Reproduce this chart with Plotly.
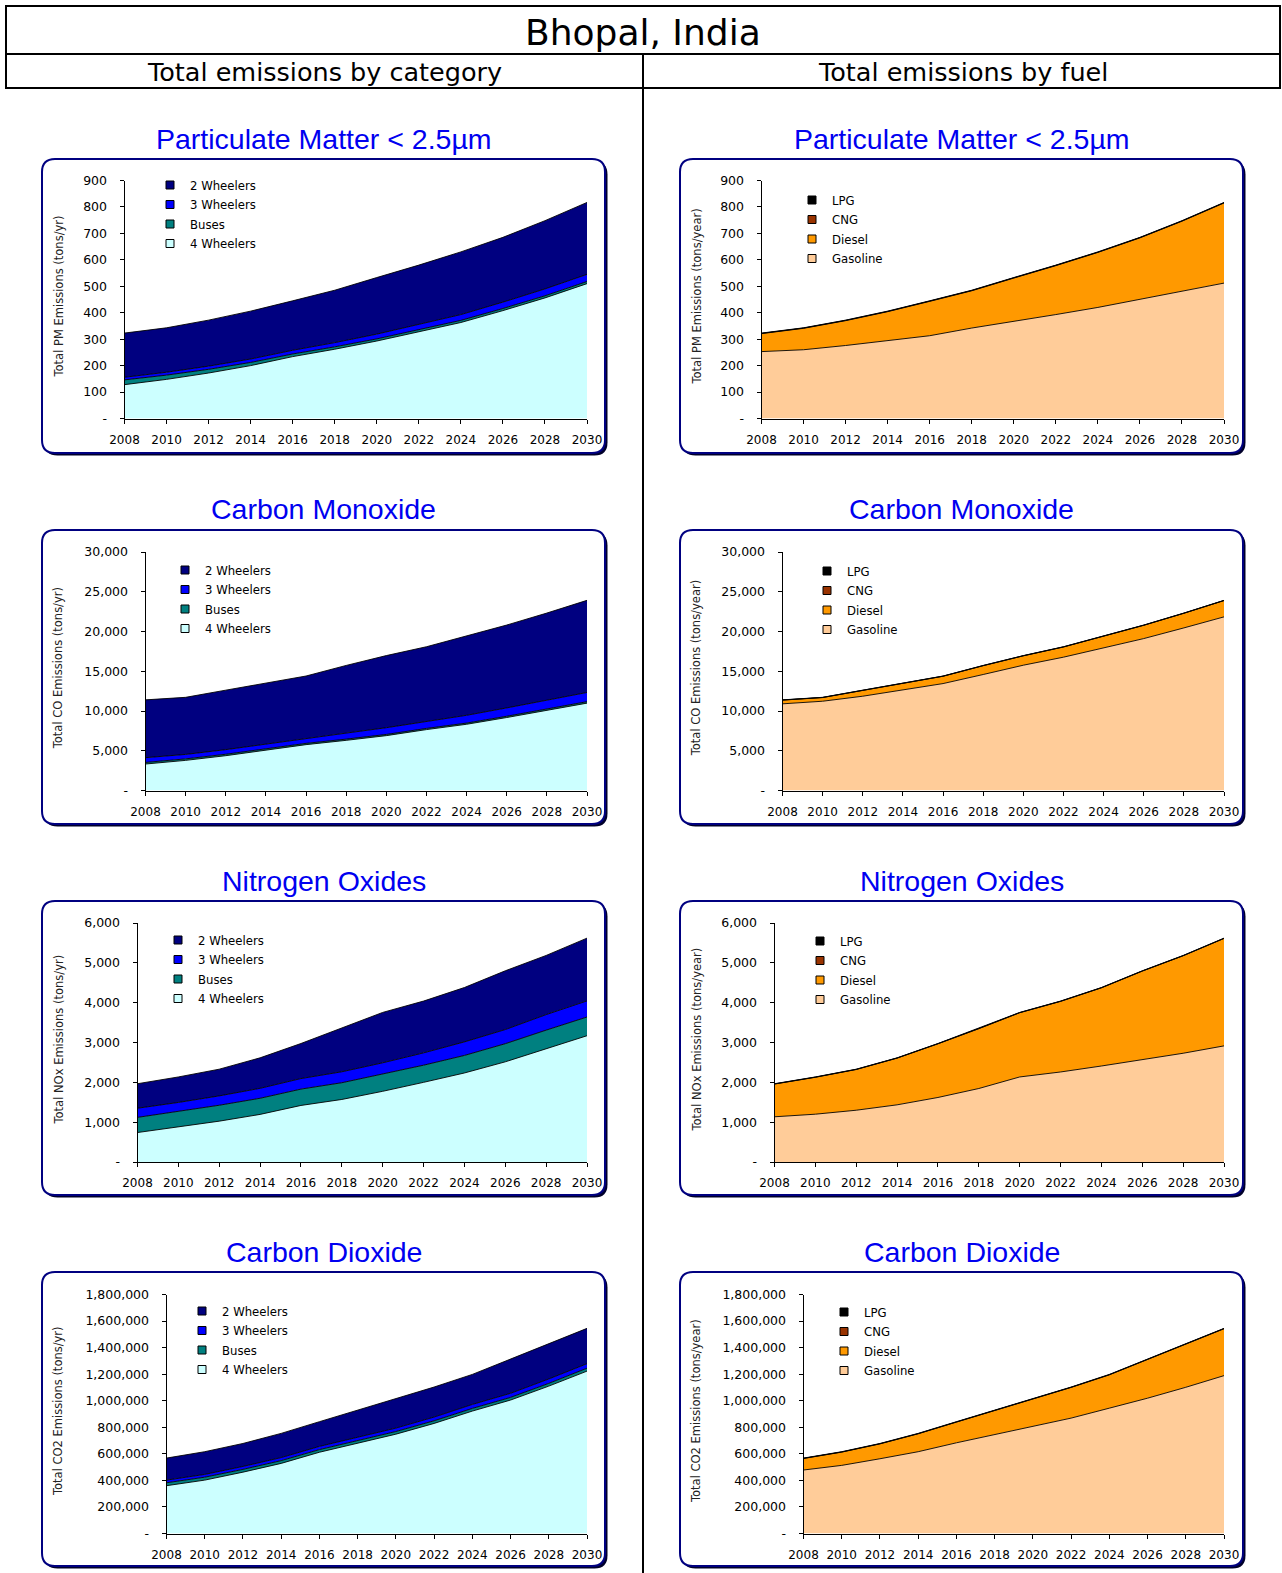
import plotly.graph_objects as go

W, H = 1282, 1573

# ---------------- data ----------------
years = [2008, 2010, 2012, 2014, 2016, 2018, 2020, 2022, 2024, 2026, 2028, 2030]

categories = ["2 Wheelers", "3 Wheelers", "Buses", "4 Wheelers"]
fuels = ["LPG", "CNG", "Diesel", "Gasoline"]

# PM 2.5 (tons/yr)
pm_4w = [128, 148, 172, 200, 234, 262, 293, 327, 363, 408, 456, 510]
pm_bus = [18, 16, 14, 12, 10, 9, 8, 8, 8, 8, 8, 8]
pm_3w = [10, 11, 12, 13, 14, 16, 18, 20, 22, 24, 26, 27]
pm_2w = [167, 168, 174, 181, 187, 198, 214, 225, 237, 245, 258, 272]
pm_gasoline = [253, 260, 276, 294, 313, 342, 367, 393, 420, 451, 482, 512]
pm_diesel = [68, 81, 94, 110, 130, 141, 164, 185, 208, 232, 264, 303]
pm_cng = [1, 1, 1, 1, 1, 1, 1, 1, 1, 1, 1, 1]
pm_lpg = [1, 1, 1, 1, 1, 1, 1, 1, 1, 1, 1, 1]

# CO (tons/yr)
co_4w = [3330, 3790, 4380, 5050, 5770, 6310, 6900, 7660, 8330, 9180, 10060, 10990]
co_bus = [200, 190, 180, 170, 160, 150, 150, 150, 150, 160, 170, 180]
co_3w = [600, 560, 580, 620, 680, 760, 850, 900, 980, 1050, 1100, 1160]
co_2w = [7270, 7180, 7480, 7710, 7790, 8510, 9070, 9370, 10000, 10420, 10990, 11590]
co_gasoline = [10900, 11230, 11860, 12700, 13450, 14590, 15760, 16770, 17940, 19110, 20450, 21840]
co_diesel = [470, 460, 730, 820, 920, 1110, 1180, 1280, 1490, 1670, 1840, 2050]
co_cng = [10, 10, 10, 10, 10, 10, 10, 10, 10, 10, 10, 10]
co_lpg = [20, 20, 20, 20, 20, 20, 20, 20, 20, 20, 20, 20]

# NOx (tons/yr)
nox_4w = [740, 875, 1025, 1195, 1420, 1570, 1775, 2000, 2235, 2515, 2850, 3170]
nox_bus = [380, 390, 400, 405, 410, 420, 430, 430, 440, 455, 460, 470]
nox_3w = [230, 230, 235, 250, 265, 275, 285, 310, 340, 355, 390, 405]
nox_2w = [615, 640, 670, 765, 880, 1090, 1265, 1300, 1365, 1475, 1485, 1575]
nox_gasoline = [1135, 1200, 1300, 1435, 1620, 1845, 2135, 2260, 2410, 2570, 2730, 2915]
nox_diesel = [822, 927, 1022, 1172, 1347, 1502, 1612, 1772, 1962, 2222, 2447, 2697]
nox_cng = [3, 3, 3, 3, 3, 3, 3, 3, 3, 3, 3, 3]
nox_lpg = [5, 5, 5, 5, 5, 5, 5, 5, 5, 5, 5, 5]

# CO2 (tons/yr)
co2_4w = [360000, 402000, 462000, 528000, 612000, 678000, 748000, 829000, 922000, 1005000, 1110000, 1223000]
co2_bus = [22000, 22000, 21000, 21000, 20000, 20000, 20000, 20000, 20000, 20000, 21000, 22000]
co2_3w = [20000, 21000, 22000, 23000, 24000, 25000, 26000, 28000, 30000, 31000, 33000, 34000]
co2_2w = [166000, 171000, 173000, 182000, 186000, 207000, 224000, 226000, 226000, 256000, 263000, 266000]
co2_gasoline = [478000, 513000, 563000, 616000, 683000, 746000, 808000, 869000, 944000, 1019000, 1101000, 1189000]
co2_diesel = [87000, 100000, 112000, 135000, 156000, 181000, 207000, 231000, 251000, 290000, 323000, 353000]
co2_cng = [1000] * 12
co2_lpg = [2000] * 12

pm_ticks = [0, 100, 200, 300, 400, 500, 600, 700, 800, 900]
co_ticks = [0, 5000, 10000, 15000, 20000, 25000, 30000]
nox_ticks = [0, 1000, 2000, 3000, 4000, 5000, 6000]
co2_ticks = [0, 200000, 400000, 600000, 800000, 1000000, 1200000, 1400000, 1600000, 1800000]

page_title = "Bhopal, India"
col_titles = ["Total emissions by category", "Total emissions by fuel"]
chart_titles = ["Particulate Matter < 2.5µm", "Carbon Monoxide", "Nitrogen Oxides", "Carbon Dioxide"]

# ---------------- styles ----------------
cat_colors = {"2 Wheelers": "#000080", "3 Wheelers": "#0000FF", "Buses": "#008080", "4 Wheelers": "#CCFFFF"}
fuel_colors = {"LPG": "#000000", "CNG": "#993300", "Diesel": "#FF9900", "Gasoline": "#FFCC99"}

FONT = "DejaVu Sans"
TITLE_FONT = "Liberation Sans"

rows = [
    dict(title=chart_titles[0], ticks=pm_ticks, gas="PM",
         cat={"4 Wheelers": pm_4w, "Buses": pm_bus, "3 Wheelers": pm_3w, "2 Wheelers": pm_2w},
         fuel={"Gasoline": pm_gasoline, "Diesel": pm_diesel, "CNG": pm_cng, "LPG": pm_lpg}),
    dict(title=chart_titles[1], ticks=co_ticks, gas="CO",
         cat={"4 Wheelers": co_4w, "Buses": co_bus, "3 Wheelers": co_3w, "2 Wheelers": co_2w},
         fuel={"Gasoline": co_gasoline, "Diesel": co_diesel, "CNG": co_cng, "LPG": co_lpg}),
    dict(title=chart_titles[2], ticks=nox_ticks, gas="NOx",
         cat={"4 Wheelers": nox_4w, "Buses": nox_bus, "3 Wheelers": nox_3w, "2 Wheelers": nox_2w},
         fuel={"Gasoline": nox_gasoline, "Diesel": nox_diesel, "CNG": nox_cng, "LPG": nox_lpg}),
    dict(title=chart_titles[3], ticks=co2_ticks, gas="CO2",
         cat={"4 Wheelers": co2_4w, "Buses": co2_bus, "3 Wheelers": co2_3w, "2 Wheelers": co2_2w},
         fuel={"Gasoline": co2_gasoline, "Diesel": co2_diesel, "CNG": co2_cng, "LPG": co2_lpg}),
]

# layout geometry (pixels)
frame_tops = [159, 530, 901, 1272]
frame_h = 294
frame_x = [(42, 605), (680, 1243)]
title_y = [139.5, 509.5, 881, 1252]
plot_y = [(180.5, 418.5), (552, 790.5), (923, 1162), (1294.5, 1533.5)]
plot_x0_left = [124.5, 145.5, 137.5, 166.5]
col_shift = 637
plot_x1 = [587, 1224]
legend_text_x_left = [190, 205, 198, 222]
legend_row0_y = [[184, 199], [569, 570], [939, 940], [1310, 1311]]


def px(x):
    return x / W


def py(y):
    return 1 - y / H


def rounded_path(x0, y0, x1, y1, r):
    rx, ry = r / W, r / H
    X0, X1 = px(x0), px(x1)
    Y0, Y1 = py(y0), py(y1)  # Y0 top (larger), Y1 bottom
    return (f"M{X0 + rx},{Y0} L{X1 - rx},{Y0} Q{X1},{Y0} {X1},{Y0 - ry} "
            f"L{X1},{Y1 + ry} Q{X1},{Y1} {X1 - rx},{Y1} L{X0 + rx},{Y1} "
            f"Q{X0},{Y1} {X0},{Y1 + ry} L{X0},{Y0 - ry} Q{X0},{Y0} {X0 + rx},{Y0} Z")


fig = go.Figure()
shapes = []
annotations = []
layout = {}

# header
shapes.append(dict(type="rect", xref="paper", yref="paper", x0=px(6), x1=px(1280), y0=py(88), y1=py(6),
                   line=dict(color="black", width=2), fillcolor="rgba(0,0,0,0)", layer="above"))
shapes.append(dict(type="line", xref="paper", yref="paper", x0=px(6), x1=px(1280), y0=py(54), y1=py(54),
                   line=dict(color="black", width=2), layer="above"))
shapes.append(dict(type="line", xref="paper", yref="paper", x0=px(643), x1=px(643), y0=py(54), y1=0,
                   line=dict(color="black", width=2), layer="above"))
annotations.append(dict(text=page_title, x=px(643), y=py(32), xref="paper", yref="paper", showarrow=False,
                        xanchor="center", yanchor="middle", font=dict(family=FONT, size=36, color="black")))
for c, cx in enumerate([324, 963]):
    annotations.append(dict(text=col_titles[c], x=px(cx), y=py(72), xref="paper", yref="paper", showarrow=False,
                            xanchor="center", yanchor="middle", font=dict(family=FONT, size=25.5, color="black")))

idx = 0
for r, row in enumerate(rows):
    for c in range(2):
        idx += 1
        sfx = "" if idx == 1 else str(idx)
        xa, ya = f"x{sfx}", f"y{sfx}"
        lg = "legend" if idx == 1 else f"legend{idx}"
        x0 = plot_x0_left[r] + c * col_shift
        x1 = plot_x1[c]
        y0, y1 = plot_y[r]
        fx0, fx1 = frame_x[c]
        ft = frame_tops[r]

        # frame with shadow
        shapes.append(dict(type="path", xref="paper", yref="paper",
                           path=rounded_path(fx0 + 2.5, ft + 2.5, fx1 + 2.5, ft + frame_h + 2.5, 13),
                           fillcolor="#00002a", line=dict(width=0), layer="below"))
        shapes.append(dict(type="path", xref="paper", yref="paper",
                           path=rounded_path(fx0, ft, fx1, ft + frame_h, 13),
                           fillcolor="white", line=dict(color="#000080", width=2), layer="below"))

        # chart title
        annotations.append(dict(text=row["title"], x=px((fx0 + fx1) / 2), y=py(title_y[r]), xref="paper",
                                yref="paper", showarrow=False, xanchor="center", yanchor="middle",
                                font=dict(family=TITLE_FONT, size=28.5, color="#0000F0")))
        # y-axis title
        unit = "(tons/yr)" if c == 0 else "(tons/year)"
        annotations.append(dict(text=f"Total {row['gas']} Emissions {unit}", textangle=-90,
                                x=px(58 + c * 638), y=py((y0 + y1) / 2 - 3), xref="paper", yref="paper",
                                showarrow=False, xanchor="center", yanchor="middle",
                                font=dict(family=FONT, size=11.5, color="#222222")))

        series = row["cat"] if c == 0 else row["fuel"]
        colors = cat_colors if c == 0 else fuel_colors
        names = categories if c == 0 else fuels

        for name, vals in series.items():
            fig.add_trace(go.Scatter(x=years, y=vals, name=name, stackgroup=f"g{idx}", mode="lines",
                                     line=dict(color="black", width=0.9), fillcolor=colors[name],
                                     xaxis=xa, yaxis=ya, showlegend=False, hoverinfo="x+y+name"))
        for name in names:
            fig.add_trace(go.Scatter(x=[None], y=[None], name=name, mode="markers",
                                     marker=dict(symbol="square", size=8, color=colors[name],
                                                 line=dict(color="black", width=1)),
                                     xaxis=xa, yaxis=ya, legend=lg, legendgroup=f"{idx}-{name}",
                                     showlegend=True))

        tx = legend_text_x_left[r] + c * 642
        ty = legend_row0_y[r][c]
        layout[lg] = dict(x=px(tx - 40), y=py(ty - 13.5), xanchor="left", yanchor="top",
                          bgcolor="rgba(0,0,0,0)", font=dict(family=FONT, size=11.7, color="black"),
                          tracegroupgap=0.5, traceorder="grouped", itemclick=False, itemdoubleclick=False)

        ticks = row["ticks"]
        layout[f"xaxis{sfx}"] = dict(domain=[px(x0), px(x1)], anchor=ya, range=[2008, 2030],
                                     tickvals=years, ticktext=[str(y) for y in years],
                                     ticks="outside", ticklen=4, tickcolor="black",
                                     showline=True, linecolor="black", linewidth=1,
                                     showgrid=False, zeroline=False, ticklabelstandoff=6,
                                     tickfont=dict(family=FONT, size=12, color="black"), fixedrange=True)
        layout[f"yaxis{sfx}"] = dict(domain=[py(y1), py(y0)], anchor=xa, range=[ticks[0], ticks[-1]],
                                     tickvals=ticks, ticktext=[f"{v:,}" if v else "-" for v in ticks],
                                     ticks="outside", ticklen=4, tickcolor="black",
                                     showline=True, linecolor="black", linewidth=1,
                                     showgrid=False, zeroline=False, ticklabelstandoff=10,
                                     tickfont=dict(family=FONT, size=12.5, color="black"), fixedrange=True)

fig.update_layout(width=W, height=H, autosize=False,
                  margin=dict(l=0, r=0, t=0, b=0, pad=0, autoexpand=False),
                  paper_bgcolor="white", plot_bgcolor="rgba(0,0,0,0)",
                  shapes=shapes, annotations=annotations, **layout)

fig.write_html("out.html", config={"displayModeBar": False},
               post_script="document.body.style.margin='0';document.body.style.overflow='hidden';")
